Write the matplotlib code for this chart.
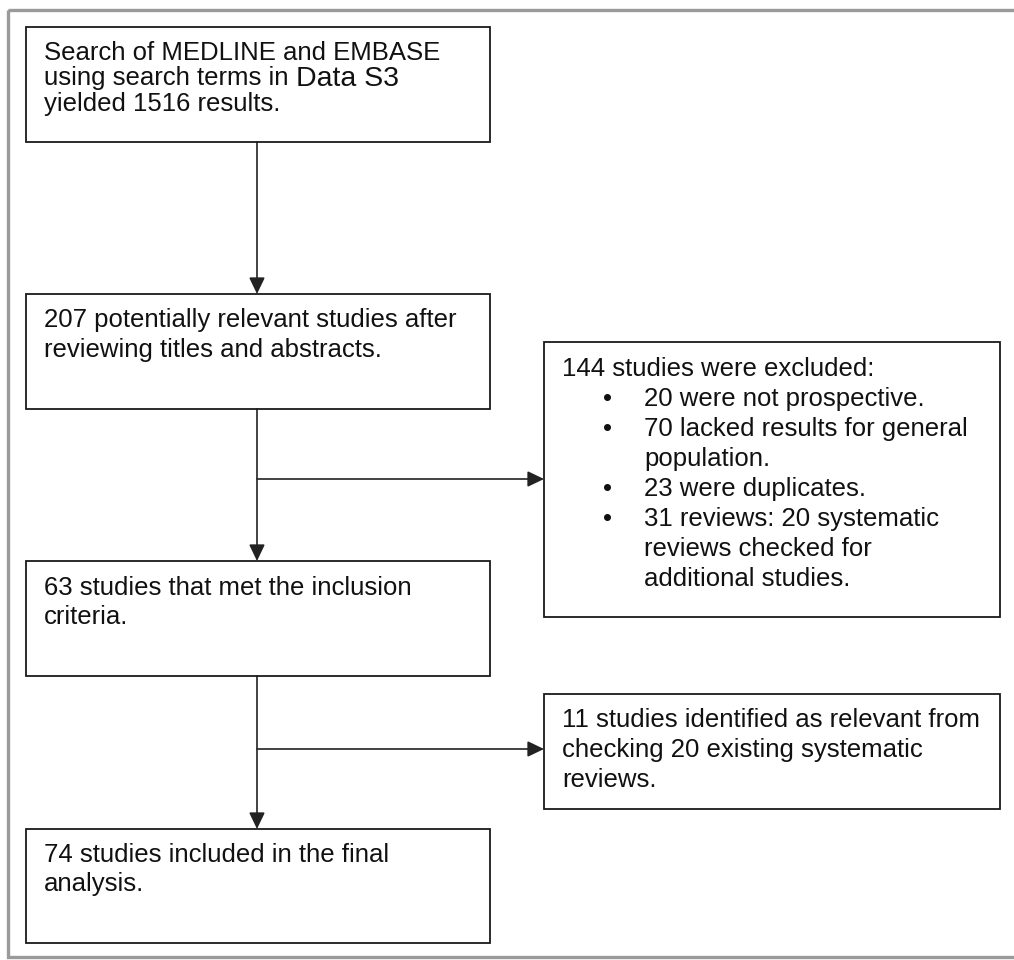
import matplotlib
matplotlib.use("Agg")
import matplotlib.pyplot as plt
from matplotlib.patches import Rectangle, FancyArrowPatch

# ---- content (text of each flowchart node) ----
search_lines = ["Search of MEDLINE and EMBASE",
                "using search terms in",
                "yielded 1516 results."]
search_ref = "Data S3"
screened_lines = ["207 potentially relevant studies after",
                  "reviewing titles and abstracts."]
excluded_header = "144 studies were excluded:"
excluded_bullets = [["20 were not prospective."],
                    ["70 lacked results for general", "population."],
                    ["23 were duplicates."],
                    ["31 reviews: 20 systematic", "reviews checked for",
                     "additional studies."]]
included_lines = ["63 studies that met the inclusion", "criteria."]
added_lines = ["11 studies identified as relevant from",
               "checking 20 existing systematic", "reviews."]
final_lines = ["74 studies included in the final", "analysis."]

W, H = 1014, 960
fig = plt.figure(figsize=(W / 100, H / 100), dpi=100)
ax = fig.add_axes([0, 0, 1, 1])
ax.set_xlim(0, W)
ax.set_ylim(H, 0)
ax.axis("off")

FONT = "Liberation Sans"
FS = 18.5
EDGE = "#1a1a1a"
TXT = "#111111"

# outer grey frame (right side runs off the image)
ax.add_patch(Rectangle((8, 10), 1100, 947, fill=False, edgecolor="#9a9a9a",
                       linewidth=2.4, zorder=1))

def box(x0, y0, x1, y1):
    ax.add_patch(Rectangle((x0, y0), x1 - x0, y1 - y0, fill=False,
                           edgecolor=EDGE, linewidth=1.3, zorder=3))

def lines(x, y, items, step):
    out = []
    for i, t in enumerate(items):
        out.append(ax.text(x, y + i * step, t, fontsize=FS, family=FONT,
                           va="baseline", ha="left", color=TXT, zorder=4))
    return out

def arrow(p0, p1):
    ax.add_patch(FancyArrowPatch(p0, p1,
                                 arrowstyle="-|>,head_length=0.5,head_width=0.24",
                                 mutation_scale=20, color="#222222", linewidth=1.2,
                                 shrinkA=0, shrinkB=0, zorder=2))

# left column boxes
box(26, 27, 490, 142)
t_search = lines(44, 60, search_lines, 25.5)
box(26, 294, 490, 409)
lines(44, 327, screened_lines, 30)
box(26, 561, 490, 676)
lines(44, 595, included_lines, 28.5)
box(26, 829, 490, 943)
lines(44, 862, final_lines, 29)

# "Data S3" reference, slightly larger, right after line 2 of first box
fig.canvas.draw()
bb = t_search[1].get_window_extent(renderer=fig.canvas.get_renderer())
x_end = ax.transData.inverted().transform((bb.x1, bb.y0))[0]
ax.text(x_end + 8, 60 + 25.5, search_ref, fontsize=20.5, family=FONT,
        va="baseline", ha="left", color=TXT, zorder=4)

# right column boxes
box(544, 342, 1000, 617)
ax.text(562, 376, excluded_header, fontsize=FS, family=FONT,
        va="baseline", ha="left", color=TXT, zorder=4)
row = 1
for item in excluded_bullets:
    ax.text(608, 376 + row * 30, "\u2022", fontsize=FS, family=FONT,
            va="baseline", ha="center", color=TXT, zorder=4)
    lines(644, 376 + row * 30, item, 30)
    row += len(item)

box(544, 694, 1000, 809)
lines(562, 727, added_lines, 30)

# connectors
cx = 257
arrow((cx, 142), (cx, 294))
arrow((cx, 409), (cx, 561))
arrow((cx, 479), (544, 479))
arrow((cx, 676), (cx, 829))
arrow((cx, 749), (544, 749))

fig.savefig("out.png", dpi=100, facecolor="white")
